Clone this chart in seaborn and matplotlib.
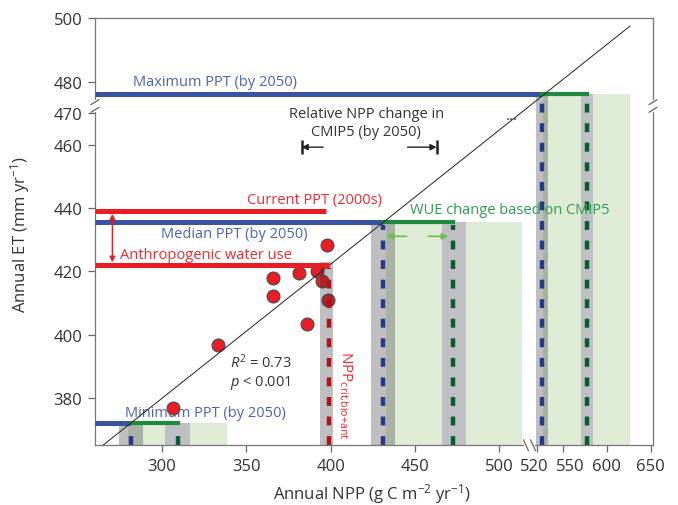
import numpy as np
import matplotlib
matplotlib.use('Agg')
import matplotlib.pyplot as plt
import matplotlib.transforms as mtransforms
import seaborn as sns

# observed years: annual NPP vs annual ET
npp_obs = [306.5, 333.2, 366.0, 366.0, 381.2, 385.8, 392.1, 394.7, 397.6, 398.6]
et_obs = [376.9, 396.8, 417.8, 412.2, 419.4, 403.3, 420.1, 417.1, 428.4, 411.0]

# fitted line, drawn straight through the axis break
fit_npp = [265.0, 626.4]
fit_et = [365.0, 497.6]

# precipitation scenarios
ppt_current = 439.1
ppt_anthro = 422.1
ppt_levels = [372.2, 435.7, 476.2]                # min / median / max PPT (by 2050)
npp_ppt = [281.7, 431.0, 526.5]                   # blue dashed
npp_ppt_band = [(274.7, 288.9), (423.9, 438.1), (519.2, 533.3)]
npp_wue = [309.3, 472.7, 577.8]                   # green dashed (WUE change)
npp_wue_band = [(301.8, 316.6), (465.8, 480.2), (570.3, 584.7)]
npp_rel = [(280.0, 338.4), (432.6, 513.2), (527.5, 626.6)]   # relative NPP change

npp_crit = 399.0
npp_crit_band = (393.7, 401.6)
current_end = 397.0

# broken x axis: two linear pieces
XL = (260.3, 517.0)
XR = (510.1, 652.6)
SPLIT = 0.776
YLIM = (365, 500)

x_ticks = [300, 350, 400, 450, 500, 520, 550, 600, 650]
y_ticks = [380, 400, 420, 440, 460, 470, 480, 500]
# small label nudges (px) used in the original to keep 520/550 apart
x_label_nudge = {520: -2, 550: 7}


def fwd(x):
    x = np.asarray(x, dtype=float)
    left = (x - XL[0]) / (XL[1] - XL[0]) * SPLIT
    right = SPLIT + (x - XR[0]) / (XR[1] - XR[0]) * (1 - SPLIT)
    return np.where(x <= XL[1], left, right)


def inv(u):
    u = np.asarray(u, dtype=float)
    left = XL[0] + u / SPLIT * (XL[1] - XL[0])
    right = XR[0] + (u - SPLIT) / (1 - SPLIT) * (XR[1] - XR[0])
    return np.where(u <= SPLIT, left, right)


BLUE = '#3a52a3'
BLUE_TXT = '#4c64b2'
NAVY = '#25388a'
GREEN = '#1f8a3e'
DKGREEN = '#0a5c2e'
GREEN_TXT = '#2e9b52'
LTGREEN = '#dfecd5'
ARROW_GREEN = '#6dbd4c'
RED = '#ec1c24'
RED_TXT = '#ee2b35'
DKRED = '#b0121b'
GRAY = '#bfc0c4'
INK = '#333333'

sns.set_style('ticks')
plt.rcParams['font.family'] = ['Open Sans', 'DejaVu Sans']
plt.rcParams['mathtext.fontset'] = 'custom'
plt.rcParams['mathtext.rm'] = 'Open Sans'
plt.rcParams['mathtext.it'] = 'Open Sans:italic'
plt.rcParams['mathtext.default'] = 'regular'

fig = plt.figure(figsize=(6.78, 5.06), dpi=100)
ax = fig.add_axes([0.1401, 0.118, 0.823, 0.8435])
ax.set_xscale('function', functions=(fwd, inv))

dash = (0, (2.0, 2.4))
for i, lvl in enumerate(ppt_levels):
    ax.fill_between(npp_rel[i], YLIM[0], lvl, color=LTGREEN, lw=0, zorder=1)
    ax.fill_between(npp_ppt_band[i], YLIM[0], lvl, color='#2d2d34', alpha=0.3, lw=0, zorder=1.5)
    ax.fill_between(npp_wue_band[i], YLIM[0], lvl, color=GRAY, lw=0, zorder=1.6)
    ax.plot([npp_ppt[i]] * 2, [YLIM[0], lvl - 1], color=NAVY, lw=3.2, ls=dash, zorder=2)
    ax.plot([npp_wue[i]] * 2, [YLIM[0], lvl - 1], color=DKGREEN, lw=3.2, ls=dash, zorder=2)
    ax.plot([XL[0], npp_ppt[i]], [lvl, lvl], color=BLUE, lw=3.6, solid_capstyle='butt', zorder=3)
    ax.plot([npp_ppt[i], npp_wue[i]], [lvl, lvl], color=GREEN, lw=3.0,
            solid_capstyle='projecting', zorder=3.1)

# current PPT and anthropogenic water use
ax.plot([XL[0], current_end], [ppt_current] * 2, color=RED, lw=3.6, solid_capstyle='butt', zorder=7)
ax.plot([XL[0], npp_crit], [ppt_anthro] * 2, color=RED, lw=3.6, solid_capstyle='butt', zorder=7)
ax.annotate('', xy=(270.6, ppt_current - 0.9), xytext=(270.6, ppt_anthro + 0.8),
            arrowprops=dict(arrowstyle='<|-|>', color=RED, lw=1.0, mutation_scale=8,
                            shrinkA=0, shrinkB=0), zorder=7)

# critical NPP
ax.fill_between(npp_crit_band, YLIM[0], 423, color='#2d2d34', alpha=0.3, lw=0, zorder=6)
ax.plot([npp_crit] * 2, [YLIM[0], 421], color=DKRED, lw=3.2, ls=dash, zorder=7)

# fit line and observations
ax.plot(fit_npp, fit_et, color='#222222', lw=0.7, zorder=5.5)
sns.scatterplot(x=npp_obs, y=et_obs, ax=ax, s=85, color=RED, edgecolor='#4d4d4d',
                linewidth=0.9, zorder=5, legend=False)

# texts
ax.text(331.3, 480.0, 'Maximum PPT (by 2050)', color=BLUE_TXT, fontsize=10.5, ha='center', va='center')
ax.text(342.8, 432.0, 'Median PPT (by 2050)', color=BLUE_TXT, fontsize=10.5, ha='center', va='center')
ax.text(325.9, 375.5, 'Minimum PPT (by 2050)', color=BLUE_TXT, fontsize=10.5, ha='center', va='center', zorder=4)
ax.text(390.7, 442.9, 'Current PPT (2000s)', color=RED_TXT, fontsize=10.5, ha='center', va='center')
ax.text(275.1, 425.3, 'Anthropogenic water use', color=RED_TXT, fontsize=10.5, ha='left', va='center')
ax.text(446.8, 439.5, 'WUE change based on CMIP5', color=GREEN_TXT, fontsize=10.5, ha='left', va='center')
ax.text(421.2, 467.0, 'Relative NPP change in\nCMIP5 (by 2050)', color=INK, fontsize=10.5,
        ha='center', va='center', linespacing=1.25)
ax.text(507.5, 469.2, '...', color=INK, fontsize=11, ha='center', va='center')
ax.text(340.3, 388.3, '$\\it{R}^2$ = 0.73\n$\\it{p}$ < 0.001', color=INK, fontsize=10.5,
        ha='left', va='center', linespacing=1.1)
ax.text(409.1, 395.2, r'NPP$_{crit{,}bio{+}ant}$', color=RED_TXT, fontsize=11, rotation=270,
        ha='center', va='top')

# relative NPP change arrows
for head, tail in [(382.8, 395.6), (462.8, 445.6)]:
    ax.annotate('', xy=(head, 459.3), xytext=(tail, 459.3),
                arrowprops=dict(arrowstyle='-|>', color='#222222', lw=1.0, mutation_scale=9,
                                shrinkA=0, shrinkB=0))
    ax.plot([head], [459.3], marker='|', ms=10, mew=1.8, color='#222222')

# WUE arrows
for head, tail in [(433.2, 445.0), (469.7, 457.9)]:
    ax.annotate('', xy=(head, 431.1), xytext=(tail, 431.1),
                arrowprops=dict(arrowstyle='-|>', color=ARROW_GREEN, lw=1.2, mutation_scale=9,
                                shrinkA=0, shrinkB=0), zorder=8)

ax.set_xlim(XL[0], XR[1])
ax.set_ylim(*YLIM)
ax.xaxis.set_major_locator(matplotlib.ticker.FixedLocator(x_ticks))
ax.xaxis.set_minor_locator(matplotlib.ticker.NullLocator())
ax.set_yticks(y_ticks)
ax.set_xticklabels([str(t) for t in x_ticks])
ax.tick_params(direction='out', length=5, width=0.9, color='#666666', labelsize=12,
               labelcolor=INK, pad=4)
for t, lab in zip(x_ticks, ax.get_xticklabels()):
    if t in x_label_nudge:
        off = mtransforms.ScaledTranslation(x_label_nudge[t] / 100, 0, fig.dpi_scale_trans)
        lab.set_transform(lab.get_transform() + off)
for s in ax.spines.values():
    s.set_color('#777777')
    s.set_linewidth(0.9)

ax.set_xlabel('Annual NPP (g C m$^{-2}$ yr$^{-1}$)', fontsize=12, color=INK)
ax.set_ylabel('Annual ET (mm yr$^{-1}$)', fontsize=12, color=INK)
ax.xaxis.set_label_coords(0.496, -0.085)
ax.yaxis.set_label_coords(-0.112, 0.497)

# axis break marks
W, H = 558.0, 426.8
kw = dict(transform=ax.transAxes, clip_on=False, zorder=20)
for xs in (0, 1):
    ax.plot([xs, xs], [0.786, 0.804], color='white', lw=3, **kw)
    for yb in (0.786, 0.804):
        ax.plot([xs - 4 / W, xs + 4 / W], [yb - 2.5 / H, yb + 2.5 / H], color='#666666', lw=0.9, **kw)
ax.plot([0.7724, 0.785], [0, 0], color='white', lw=3, **kw)
for xb in (0.7724, 0.785):
    ax.plot([xb - 2.5 / W, xb + 2.5 / W], [5.5 / H, -5.5 / H], color='#666666', lw=0.9, **kw)

fig.savefig('out.png', dpi=100)
